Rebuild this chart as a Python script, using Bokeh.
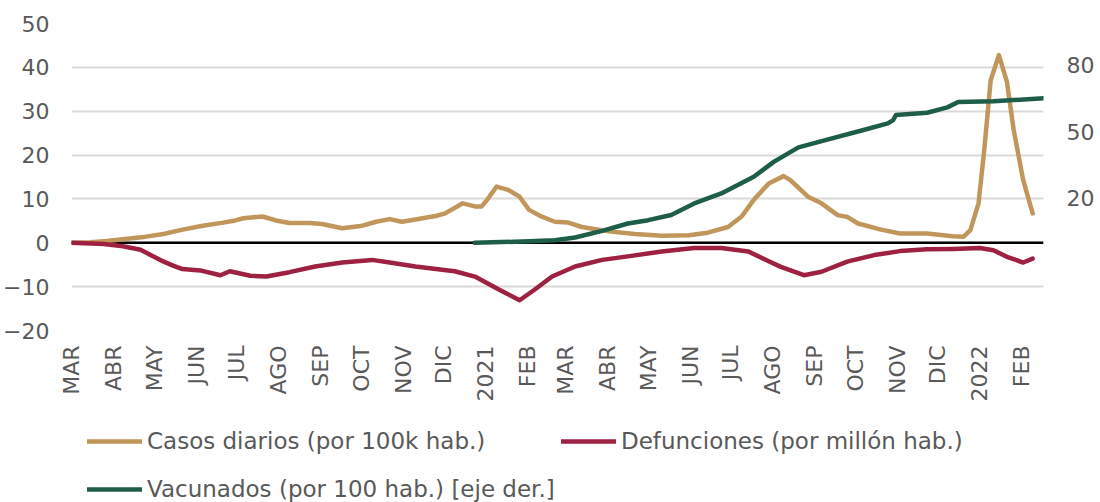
import math
import pandas as pd
from bokeh.plotting import figure
from bokeh.layouts import column
from bokeh.models import (ColumnDataSource, LinearAxis, Range1d, FixedTicker,
                          Legend, LegendItem, Span)
from bokeh.embed import file_html
from bokeh.resources import INLINE

inicio = pd.Timestamp("2020-03-01")

# Casos diarios (por 100k hab.)
casos_fechas = ["2020-03-01", "2020-03-15", "2020-03-27", "2020-04-08", "2020-04-25",
                "2020-05-08", "2020-05-22", "2020-06-06", "2020-06-21", "2020-06-30",
                "2020-07-06", "2020-07-20", "2020-07-30", "2020-08-09", "2020-08-24",
                "2020-09-02", "2020-09-17", "2020-10-02", "2020-10-12", "2020-10-22",
                "2020-10-31", "2020-11-10", "2020-11-25", "2020-12-02", "2020-12-15",
                "2020-12-24", "2020-12-29", "2021-01-03", "2021-01-09", "2021-01-18",
                "2021-01-26", "2021-02-02", "2021-02-11", "2021-02-21", "2021-03-03",
                "2021-03-13", "2021-04-02", "2021-04-21", "2021-05-11", "2021-05-31",
                "2021-06-14", "2021-06-29", "2021-07-09", "2021-07-18", "2021-07-29",
                "2021-08-09", "2021-08-14", "2021-08-27", "2021-09-06", "2021-09-18",
                "2021-09-25", "2021-10-03", "2021-10-20", "2021-11-03", "2021-11-23",
                "2021-12-12", "2021-12-20", "2021-12-25", "2021-12-31", "2022-01-04",
                "2022-01-09", "2022-01-15", "2022-01-21", "2022-01-26", "2022-02-02",
                "2022-02-09"]
casos_valores = [0.0, 0.1, 0.4, 0.8, 1.4,
                 2.0, 3.0, 3.9, 4.6, 5.1,
                 5.6, 6.0, 5.1, 4.5, 4.5,
                 4.3, 3.3, 3.9, 4.8, 5.4,
                 4.8, 5.3, 6.1, 6.7, 9.0,
                 8.3, 8.3, 10.2, 12.8, 12.0,
                 10.5, 7.5, 6.0, 4.8, 4.6,
                 3.6, 2.6, 2.0, 1.6, 1.7,
                 2.3, 3.6, 6.0, 9.8, 13.5,
                 15.2, 14.3, 10.5, 9.0, 6.3,
                 5.9, 4.4, 3.0, 2.1, 2.1,
                 1.5, 1.4, 2.9, 9.0, 20.4,
                 37.1, 42.8, 36.7, 25.7, 14.3,
                 6.7]

# Defunciones (por millón hab.), mostradas en negativo
defun_fechas = ["2020-03-01", "2020-03-25", "2020-04-08", "2020-04-21", "2020-05-06",
                "2020-05-15", "2020-05-22", "2020-06-04", "2020-06-19", "2020-06-26",
                "2020-07-11", "2020-07-23", "2020-08-09", "2020-08-28", "2020-09-17",
                "2020-10-09", "2020-10-22", "2020-11-10", "2020-12-09", "2020-12-24",
                "2021-01-11", "2021-01-26", "2021-02-06", "2021-02-19", "2021-03-08",
                "2021-03-28", "2021-04-16", "2021-05-11", "2021-06-04", "2021-06-24",
                "2021-07-14", "2021-07-29", "2021-08-07", "2021-08-24", "2021-09-06",
                "2021-09-25", "2021-10-15", "2021-11-03", "2021-11-23", "2021-12-12",
                "2022-01-01", "2022-01-11", "2022-01-21", "2022-02-02", "2022-02-09"]
defun_valores = [0.0, -0.3, -0.8, -1.6, -4.0,
                 -5.2, -6.0, -6.3, -7.4, -6.5,
                 -7.5, -7.7, -6.7, -5.4, -4.5,
                 -3.9, -4.5, -5.4, -6.5, -7.7,
                 -10.7, -13.1, -10.7, -7.7, -5.4,
                 -3.9, -3.1, -2.0, -1.2, -1.2,
                 -2.0, -4.2, -5.5, -7.4, -6.6,
                 -4.3, -2.8, -1.9, -1.5, -1.4,
                 -1.2, -1.7, -3.2, -4.5, -3.6]

# Vacunados (por 100 hab.) [eje der.]
vac_fechas = ["2020-12-24", "2021-01-28", "2021-02-21", "2021-03-08", "2021-03-28",
              "2021-04-16", "2021-05-01", "2021-05-18", "2021-06-04", "2021-06-24",
              "2021-07-18", "2021-08-02", "2021-08-20", "2021-09-11", "2021-10-05",
              "2021-10-25", "2021-10-29", "2021-10-31", "2021-11-23", "2021-12-08",
              "2021-12-16", "2022-01-11", "2022-02-17"]
vac_valores = [0.0, 0.6, 1.2, 2.4, 5.4,
               8.7, 10.2, 12.5, 17.7, 22.2,
               29.7, 36.5, 42.9, 46.5, 50.4,
               53.7, 55.2, 57.5, 58.5, 60.9,
               63.3, 63.6, 65.0]

mes_inicio = ["2020-03-01", "2020-04-01", "2020-05-01", "2020-06-01", "2020-07-01",
              "2020-08-01", "2020-09-01", "2020-10-01", "2020-11-01", "2020-12-01",
              "2021-01-01", "2021-02-01", "2021-03-01", "2021-04-01", "2021-05-01",
              "2021-06-01", "2021-07-01", "2021-08-01", "2021-09-01", "2021-10-01",
              "2021-11-01", "2021-12-01", "2022-01-01", "2022-02-01"]
mes_etiquetas = ["MAR", "ABR", "MAY", "JUN", "JUL", "AGO", "SEP", "OCT", "NOV", "DIC",
                 "2021", "FEB", "MAR", "ABR", "MAY", "JUN", "JUL", "AGO", "SEP", "OCT",
                 "NOV", "DIC", "2022", "FEB"]

y_izq_ticks = [-20, -10, 0, 10, 20, 30, 40, 50]
y_der_ticks = [20, 50, 80]

serie_etiquetas = ["Casos diarios (por 100k hab.)",
                   "Defunciones (por millón hab.)",
                   "Vacunados (por 100 hab.) [eje der.]"]


def dias(fechas):
    return [int((pd.Timestamp(f) - inicio).days) for f in fechas]


FONT = "DejaVu Sans"
GRAY = "#595959"
C_CASOS = "#C0965A"
C_DEFUN = "#9E2142"
C_VAC = "#1F5D4B"
LW = 4.5

p = figure(width=1100, height=420, output_backend="svg", toolbar_location=None,
           x_range=Range1d(0, 718), y_range=Range1d(-20, 50),
           min_border_left=68, min_border_right=57, min_border_top=23,
           min_border_bottom=90)
p.outline_line_color = None
p.background_fill_color = "white"
p.extra_y_ranges = {"vac": Range1d(-39.4, 98.6)}

# grid
p.xgrid.visible = False
p.ygrid.ticker = FixedTicker(ticks=y_izq_ticks)
p.ygrid.grid_line_color = "#D9D9D9"
p.ygrid.grid_line_width = 2

zero = Span(location=0, dimension="width", line_color="black", line_width=2.5,
            level="underlay")
p.add_layout(zero)

src_c = ColumnDataSource(dict(x=dias(casos_fechas), y=casos_valores))
src_d = ColumnDataSource(dict(x=dias(defun_fechas), y=defun_valores))
src_v = ColumnDataSource(dict(x=dias(vac_fechas), y=vac_valores))

estilo = dict(line_width=LW, line_cap="round", line_join="round")
p.line("x", "y", source=src_c, line_color=C_CASOS, **estilo)
p.line("x", "y", source=src_d, line_color=C_DEFUN, **estilo)
p.line("x", "y", source=src_v, line_color=C_VAC, y_range_name="vac", **estilo)

# axes
xa = p.xaxis[0]
xticks = dias(mes_inicio)
xa.ticker = FixedTicker(ticks=xticks)
xa.major_label_overrides = {t: lab for t, lab in zip(xticks, mes_etiquetas)}
xa.major_label_orientation = math.pi / 2
xa.axis_line_color = None
xa.major_tick_line_color = None
xa.minor_tick_line_color = None
xa.major_tick_out = 0
xa.major_tick_in = 0
xa.major_label_standoff = 15
xa.major_label_text_font = FONT
xa.major_label_text_font_size = "22px"
xa.major_label_text_color = GRAY

ya = p.yaxis[0]
ya.ticker = FixedTicker(ticks=y_izq_ticks)
ya.axis_line_color = None
ya.major_tick_line_color = None
ya.minor_tick_line_color = None
ya.major_tick_out = 0
ya.major_tick_in = 0
ya.major_label_standoff = 22
ya.major_label_text_font = FONT
ya.major_label_text_font_size = "22px"
ya.major_label_text_color = GRAY

yr = LinearAxis(y_range_name="vac", ticker=FixedTicker(ticks=y_der_ticks))
yr.axis_line_color = None
yr.major_tick_line_color = None
yr.minor_tick_line_color = None
yr.major_tick_out = 0
yr.major_tick_in = 0
yr.major_label_standoff = 23
yr.major_label_text_font = FONT
yr.major_label_text_font_size = "22px"
yr.major_label_text_color = GRAY
p.add_layout(yr, "right")

# legend strip: a second figure whose view range lies outside the data,
# so only the legend (same series, same styles) is visible
q = figure(width=1100, height=82, output_backend="svg", toolbar_location=None,
           x_axis_type=None, y_axis_type=None,
           x_range=Range1d(-2000, -1000), y_range=Range1d(-2000, -1000),
           min_border=0, min_border_left=0, min_border_right=0,
           min_border_top=0, min_border_bottom=0)
q.outline_line_color = None
q.xgrid.visible = False
q.ygrid.visible = False
lc = q.line("x", "y", source=src_c, line_color=C_CASOS, **estilo)
ld = q.line("x", "y", source=src_d, line_color=C_DEFUN, **estilo)
lv = q.line("x", "y", source=src_v, line_color=C_VAC, **estilo)


def make_legend(label, renderer, loc):
    lg = Legend(items=[LegendItem(label=label, renderers=[renderer])], location=loc)
    lg.padding = 0
    lg.margin = 0
    lg.border_line_color = None
    lg.background_fill_alpha = 0
    lg.glyph_width = 55
    lg.glyph_height = 20
    lg.label_standoff = 5
    lg.label_height = 20
    lg.label_text_font = FONT
    lg.label_text_font_size = "23px"
    lg.label_text_color = GRAY
    q.add_layout(lg)


make_legend(serie_etiquetas[0], lc, (16, 48))
make_legend(serie_etiquetas[1], ld, (490, 48))
make_legend(serie_etiquetas[2], lv, (16, 0))

open("out.html", "w").write(file_html(column(p, q, spacing=0), INLINE))
